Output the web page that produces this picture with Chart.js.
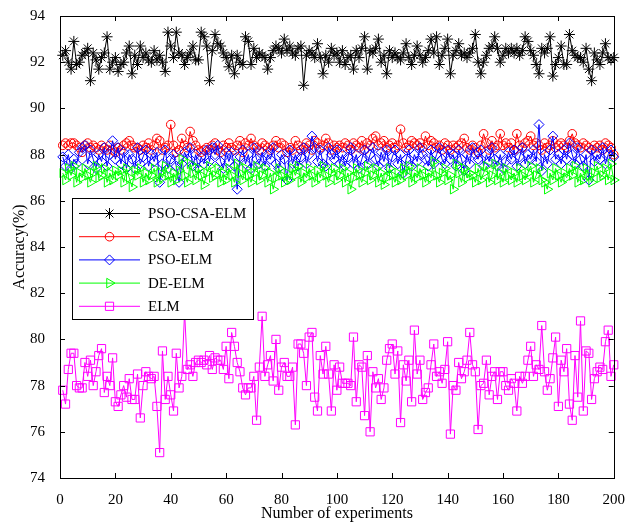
<!DOCTYPE html>
<html>
<head>
<meta charset="utf-8">
<title>Accuracy over 200 experiments</title>
<script src="https://cdn.jsdelivr.net/npm/chart.js"></script>
<style>
  html, body { margin: 0; padding: 0; background: #fff; }
  canvas { display: block; }
</style>
</head>
<body>
<canvas id="acc" width="630" height="523"></canvas>
<script>
// run index 1..200
const experiments = Array.from({ length: 200 }, (_, i) => i + 1);

const seriesNames = ["PSO-CSA-ELM", "CSA-ELM", "PSO-ELM", "DE-ELM", "ELM"];

const psoCsaElm = [
  92.3, 92.5, 92.0, 91.7, 92.9, 91.9, 92.0, 92.3, 92.4, 92.6,
  91.2, 92.4, 92.1, 91.7, 92.2, 92.4, 93.1, 91.7, 92.0, 92.2,
  91.6, 91.9, 92.0, 92.4, 92.7, 91.5, 92.3, 91.9, 92.7, 92.2,
  92.4, 92.1, 92.0, 92.5, 92.1, 92.3, 92.0, 91.6, 93.3, 92.7,
  92.2, 93.3, 92.4, 92.3, 91.9, 92.2, 92.4, 92.7, 92.1, 92.1,
  93.3, 93.1, 92.7, 91.2, 92.5, 93.2, 92.8, 92.7, 92.4, 92.2,
  91.8, 92.3, 91.5, 92.3, 92.0, 91.9, 93.1, 92.9, 91.9, 92.6,
  92.2, 92.4, 92.3, 92.2, 91.7, 92.2, 92.5, 92.7, 92.6, 92.4,
  93.0, 92.5, 92.7, 92.4, 92.3, 92.6, 92.7, 91.0, 92.3, 92.5,
  92.4, 92.2, 92.8, 92.2, 91.5, 92.3, 92.0, 92.6, 92.3, 92.4,
  92.0, 92.5, 91.9, 92.2, 92.3, 91.7, 92.5, 92.2, 92.6, 93.1,
  91.7, 92.5, 92.4, 92.6, 93.0, 92.0, 92.3, 91.5, 92.5, 92.2,
  92.4, 92.2, 92.1, 92.4, 92.8, 92.2, 91.9, 92.3, 92.7, 92.3,
  92.0, 92.2, 92.5, 93.0, 92.4, 93.1, 91.9, 92.3, 92.6, 93.0,
  91.5, 92.3, 92.5, 92.8, 92.3, 92.4, 92.2, 92.4, 92.6, 93.2,
  92.0, 91.5, 92.0, 92.3, 92.6, 92.7, 93.1, 92.6, 92.0, 92.3,
  92.6, 92.4, 92.6, 92.4, 92.6, 92.3, 92.5, 93.1, 92.9, 92.5,
  92.3, 91.9, 91.5, 92.6, 92.4, 92.6, 93.1, 91.4, 91.9, 92.2,
  92.7, 91.9, 91.9, 93.2, 92.5, 92.3, 92.2, 92.2, 92.0, 92.6,
  91.7, 91.2, 92.4, 92.1, 91.9, 92.4, 92.8, 92.2, 92.1, 92.2
];

const csaElm = [
  88.4, 88.5, 88.4, 88.5, 88.5, 88.4, 88.3, 88.1, 88.4, 88.5,
  88.3, 88.4, 88.3, 88.2, 88.4, 88.3, 88.2, 88.4, 88.2, 88.1,
  88.3, 88.2, 88.4, 88.5, 88.6, 88.4, 88.3, 88.3, 88.2, 88.4,
  88.3, 88.5, 88.2, 88.4, 88.7, 88.6, 88.2, 88.3, 88.4, 89.3,
  88.4, 88.1, 88.2, 88.7, 88.4, 88.3, 89.0, 88.6, 88.4, 88.2,
  88.1, 88.2, 88.3, 88.2, 88.4, 88.5, 88.2, 88.1, 88.4, 88.3,
  88.5, 88.3, 88.2, 88.4, 88.6, 88.1, 88.5, 88.4, 88.7, 88.4,
  88.3, 88.2, 88.5, 88.4, 88.3, 88.2, 88.4, 88.6, 88.3, 88.5,
  88.4, 88.1, 88.3, 88.2, 88.6, 88.4, 88.2, 88.3, 88.5, 88.4,
  88.2, 88.6, 88.5, 88.3, 88.4, 88.7, 88.5, 88.2, 88.4, 88.3,
  88.4, 88.3, 88.5, 88.4, 88.2, 88.5, 88.4, 88.3, 88.6, 88.2,
  88.5, 88.4, 88.7, 88.8, 88.4, 88.5, 88.6, 88.3, 88.4, 88.5,
  88.3, 88.4, 89.1, 88.5, 88.3, 88.4, 88.6, 88.5, 88.4, 88.5,
  88.3, 88.8, 88.4, 88.6, 88.5, 88.3, 88.4, 88.2, 88.5, 88.4,
  88.2, 88.4, 88.3, 88.4, 88.5, 88.7, 88.3, 88.2, 88.4, 88.3,
  88.1, 88.4, 88.9, 88.5, 88.2, 88.6, 88.3, 88.4, 88.9, 88.4,
  88.5, 88.3, 88.5, 88.2, 88.9, 88.4, 88.3, 88.5, 88.6, 88.8,
  88.4, 88.5, 88.4, 88.2, 88.5, 88.3, 88.4, 88.6, 88.3, 88.4,
  88.5, 88.4, 88.3, 88.6, 88.9, 88.5, 88.4, 88.3, 88.5, 88.4,
  88.3, 88.2, 88.4, 88.3, 88.4, 88.2, 88.5, 88.4, 88.3, 88.0
];

const psoElm = [
  87.9, 87.5, 88.0, 87.4, 87.8, 87.6, 88.1, 88.3, 88.4, 87.6,
  88.2, 87.8, 87.4, 88.0, 87.7, 88.3, 87.5, 88.0, 88.6, 87.8,
  88.3, 87.6, 88.1, 87.4, 88.0, 87.8, 87.4, 88.3, 87.6, 87.9,
  88.2, 87.5, 88.0, 87.7, 88.1, 86.8, 87.6, 88.2, 87.4, 87.8,
  88.0, 87.5, 86.8, 87.6, 88.1, 87.8, 88.3, 87.5, 88.0, 87.4,
  87.9, 87.6, 88.2, 87.7, 88.3, 88.0, 88.4, 87.7, 87.4, 88.1,
  87.7, 88.1, 87.5, 86.5, 87.9, 88.2, 87.6, 88.0, 87.4, 88.3,
  87.8, 87.6, 88.1, 87.5, 88.0, 87.8, 88.3, 87.6, 87.4, 88.0,
  87.8, 86.9, 88.2, 87.6, 88.0, 87.5, 87.9, 88.3, 87.6, 88.0,
  88.8, 88.3, 87.7, 88.2, 87.6, 87.5, 88.3, 88.0, 87.8, 88.2,
  87.6, 88.0, 87.5, 87.9, 88.3, 87.6, 88.0, 87.4, 87.8, 88.2,
  87.6, 88.0, 88.3, 87.8, 87.5, 88.1, 87.7, 88.2, 87.4, 87.9,
  88.2, 87.6, 88.0, 87.2, 87.8, 88.2, 87.5, 88.0, 87.7, 88.3,
  88.0, 87.8, 87.5, 88.2, 87.6, 88.0, 88.3, 87.8, 87.6, 88.2,
  87.8, 88.0, 87.5, 88.2, 87.8, 87.3, 88.0, 87.6, 88.3, 88.0,
  87.8, 88.2, 87.5, 88.0, 87.7, 88.3, 87.8, 87.5, 88.0, 87.4,
  87.7, 88.1, 87.8, 88.2, 87.5, 87.9, 88.3, 87.6, 88.0, 87.8,
  88.2, 87.7, 89.3, 87.3, 88.0, 87.6, 88.2, 88.8, 87.8, 88.0,
  87.6, 88.2, 87.8, 88.5, 88.0, 87.6, 88.3, 87.8, 87.5, 88.0,
  86.9, 88.2, 87.7, 88.0, 87.8, 88.3, 87.6, 88.0, 88.2, 87.9
];

const deElm = [
  87.2, 86.9, 87.4, 87.1, 87.5, 86.8, 87.2, 87.0, 87.4, 87.1,
  86.8, 87.2, 87.5, 87.0, 87.1, 87.4, 86.8, 87.2, 86.9, 87.3,
  87.1, 87.3, 86.8, 87.4, 87.0, 86.6, 87.3, 87.1, 87.4, 86.8,
  87.2, 86.9, 87.1, 87.4, 86.8, 87.2, 87.0, 87.5, 87.1, 86.8,
  87.2, 86.9, 87.3, 87.8, 87.1, 86.8, 87.6, 87.2, 86.9, 87.4,
  87.1, 86.7, 87.2, 87.5, 87.0, 87.1, 87.4, 86.8, 87.2, 86.9,
  87.4, 87.1, 86.8, 87.6, 87.2, 86.9, 87.4, 87.1, 86.8, 87.2,
  87.5, 86.9, 87.1, 87.4, 86.8, 87.2, 86.5, 87.0, 87.4, 87.1,
  86.8, 87.2, 86.9, 87.4, 87.1, 87.5, 86.8, 87.2, 87.0, 87.4,
  87.1, 86.8, 87.3, 87.0, 87.5, 87.1, 86.8, 87.2, 87.4, 86.9,
  87.1, 87.4, 86.8, 87.2, 86.5, 87.0, 87.4, 87.1, 86.8, 87.2,
  87.5, 86.9, 87.1, 87.4, 86.8, 87.2, 86.7, 87.0, 87.4, 87.1,
  86.8, 87.2, 86.9, 87.4, 87.1, 87.5, 86.8, 87.2, 87.0, 87.4,
  87.1, 86.8, 87.2, 87.0, 87.7, 87.1, 86.8, 87.2, 87.4, 86.9,
  87.1, 86.5, 87.6, 87.2, 86.8, 87.4, 87.0, 87.2, 87.1, 86.8,
  87.4, 86.9, 87.2, 87.5, 86.8, 87.1, 87.6, 86.9, 87.2, 86.8,
  87.4, 87.1, 86.9, 87.2, 86.8, 87.4, 87.1, 86.9, 87.2, 87.5,
  86.8, 87.1, 87.4, 86.9, 86.8, 86.5, 87.2, 86.9, 87.4, 87.1,
  86.8, 87.2, 87.0, 87.4, 87.1, 87.5, 86.8, 87.2, 86.9, 87.4,
  87.1, 86.8, 87.2, 87.5, 87.0, 87.1, 87.4, 86.9, 87.6, 86.9
];

const elm = [
  77.8, 77.2, 78.7, 79.4, 79.4, 78.0, 77.9, 77.9, 79.0, 78.4,
  79.1, 78.0, 78.6, 79.3, 79.6, 77.7, 78.4, 78.0, 79.2, 77.3,
  77.1, 77.6, 78.0, 77.5, 78.3, 77.4, 77.4, 78.5, 76.6, 78.0,
  78.6, 78.4, 78.3, 78.4, 77.1, 75.1, 79.5, 77.4, 78.4, 77.6,
  76.9, 79.4, 77.9, 78.4, 81.2, 78.7, 78.9, 78.4, 79.0, 79.1,
  79.0, 79.1, 78.9, 79.3, 78.7, 79.2, 79.1, 79.1, 78.7, 79.7,
  78.3, 80.3, 79.7, 79.0, 78.6, 77.9, 77.6, 77.9, 77.9, 78.4,
  76.5, 78.8, 81.0, 78.4, 78.9, 79.3, 78.2, 80.0, 77.8, 78.8,
  79.0, 78.4, 78.4, 78.8, 76.3, 79.8, 79.8, 79.4, 78.0, 80.1,
  80.3, 77.5, 76.9, 79.3, 78.5, 79.7, 78.5, 76.9, 78.9, 77.8,
  78.8, 78.1, 78.1, 78.1, 78.0, 80.1, 77.3, 78.9, 78.8, 76.7,
  79.3, 76.0, 78.6, 77.9, 78.3, 77.4, 77.9, 79.1, 79.6, 79.8,
  78.5, 79.5, 76.4, 78.9, 78.2, 79.1, 77.3, 80.4, 78.5, 79.1,
  77.4, 77.7, 77.9, 78.9, 79.8, 78.4, 78.6, 78.1, 78.7, 79.9,
  75.9, 78.0, 77.8, 79.0, 78.3, 78.6, 79.1, 80.3, 78.9, 78.6,
  76.1, 78.0, 78.1, 79.1, 77.6, 78.4, 78.6, 77.4, 78.6, 78.6,
  78.0, 77.8, 78.3, 78.1, 76.9, 78.4, 78.1, 78.4, 79.1, 79.7,
  78.4, 78.9, 78.7, 80.6, 78.6, 77.8, 78.3, 79.2, 80.1, 77.1,
  79.1, 78.6, 79.6, 77.2, 76.5, 79.3, 77.5, 80.8, 76.9, 79.5,
  79.4, 77.4, 78.3, 78.6, 78.8, 78.7, 79.9, 80.4, 78.4, 78.9
];

const xTicks = [0, 20, 40, 60, 80, 100, 120, 140, 160, 180, 200];
const yTicks = [74, 76, 78, 80, 82, 84, 86, 88, 90, 92, 94];

const serif = "'Liberation Serif', 'Times New Roman', serif";

// marker look per series, same order as seriesNames
const styles = [
  { color: "#000000", pointStyle: "star", radius: 5.5, rotation: 0 },
  { color: "#ff0000", pointStyle: "circle", radius: 4.3, rotation: 0 },
  { color: "#0000ff", pointStyle: "rectRot", radius: 5, rotation: 0 },
  { color: "#00ff00", pointStyle: "triangle", radius: 5.5, rotation: 90 },
  { color: "#ff00ff", pointStyle: "rect", radius: 5.8, rotation: 0 }
];

const allValues = [psoCsaElm, csaElm, psoElm, deElm, elm];

const datasets = allValues.map((values, i) => {
  const s = styles[i];
  return {
    label: seriesNames[i],
    data: values.map((v, j) => ({ x: experiments[j], y: v })),
    borderColor: s.color,
    borderWidth: 1,
    pointStyle: s.pointStyle,
    pointRadius: s.radius,
    pointRotation: s.rotation,
    pointBorderColor: s.color,
    pointBorderWidth: 1,
    pointBackgroundColor: "rgba(0,0,0,0)",
    tension: 0,
    clip: false,
    order: allValues.length - i
  };
});

// box around the plot with inward ticks on all four sides
const frameTicks = {
  id: "frameTicks",
  afterDatasetsDraw(chart) {
    const { ctx, chartArea: a } = chart;
    const x = chart.scales.x;
    const y = chart.scales.y;
    const len = 5;
    ctx.save();
    ctx.strokeStyle = "#000";
    ctx.lineWidth = 1;
    ctx.beginPath();
    xTicks.forEach((t) => {
      const px = Math.round(x.getPixelForValue(t)) + 0.5;
      ctx.moveTo(px, a.bottom);
      ctx.lineTo(px, a.bottom - len);
      ctx.moveTo(px, a.top);
      ctx.lineTo(px, a.top + len);
    });
    yTicks.forEach((t) => {
      const py = Math.round(y.getPixelForValue(t)) + 0.5;
      ctx.moveTo(a.left, py);
      ctx.lineTo(a.left + len, py);
      ctx.moveTo(a.right, py);
      ctx.lineTo(a.right - len, py);
    });
    ctx.stroke();
    ctx.strokeRect(Math.round(a.left) + 0.5, Math.round(a.top) + 0.5,
      Math.round(a.right - a.left), Math.round(a.bottom - a.top));
    ctx.restore();
  }
};

// legend box inside the plot, between the upper group and the ELM band
const boxLegend = {
  id: "boxLegend",
  afterDraw(chart) {
    const { ctx } = chart;
    const bx = 72, by = 198, bw = 181, bh = 121;
    const rowH = 23.2;
    ctx.save();
    ctx.fillStyle = "#fff";
    ctx.fillRect(bx, by, bw, bh);
    ctx.strokeStyle = "#000";
    ctx.lineWidth = 1;
    ctx.strokeRect(bx + 0.5, by + 0.5, bw, bh);
    seriesNames.forEach((name, i) => {
      const s = styles[i];
      const cy = by + 15 + i * rowH;
      ctx.strokeStyle = s.color;
      ctx.lineWidth = 1;
      ctx.beginPath();
      ctx.moveTo(79, cy + 0.5);
      ctx.lineTo(140, cy + 0.5);
      ctx.stroke();
      ctx.fillStyle = "rgba(0,0,0,0)";
      if (Chart.helpers && Chart.helpers.drawPoint) {
        Chart.helpers.drawPoint(ctx, {
          pointStyle: s.pointStyle,
          rotation: s.rotation,
          radius: s.radius,
          borderWidth: 1
        }, 109.5, cy + 0.5);
      }
      ctx.fillStyle = "#000";
      ctx.font = "15px " + serif;
      ctx.textAlign = "left";
      ctx.textBaseline = "middle";
      ctx.fillText(name, 148, cy + 1);
    });
    ctx.restore();
  }
};

new Chart(document.getElementById("acc"), {
  type: "line",
  data: { datasets },
  options: {
    responsive: false,
    devicePixelRatio: 1,
    animation: false,
    layout: { padding: { top: 14, right: 16, left: 0, bottom: 0 } },
    plugins: {
      legend: { display: false },
      tooltip: { enabled: false }
    },
    scales: {
      x: {
        type: "linear",
        min: 0,
        max: 200,
        grid: { display: false },
        border: { display: false },
        afterBuildTicks: (scale) => {
          scale.ticks = xTicks.map((v) => ({ value: v }));
        },
        afterFit: (scale) => { scale.height = 45; },
        ticks: {
          color: "#000",
          padding: 5,
          maxRotation: 0,
          font: { family: serif, size: 15 }
        },
        title: {
          display: true,
          text: "Number of experiments",
          color: "#000",
          padding: { top: 0, bottom: 0 },
          font: { family: serif, size: 16 }
        }
      },
      y: {
        min: 74,
        max: 94,
        grid: { display: false },
        border: { display: false },
        afterBuildTicks: (scale) => {
          scale.ticks = yTicks.map((v) => ({ value: v }));
        },
        afterFit: (scale) => { scale.width = 60; },
        ticks: {
          color: "#000",
          padding: 7,
          font: { family: serif, size: 15 }
        },
        title: {
          display: true,
          text: "Accuracy(%)",
          color: "#000",
          padding: { top: 10, bottom: 0 },
          font: { family: serif, size: 16 }
        }
      }
    }
  },
  plugins: [frameTicks, boxLegend]
});
</script>
</body>
</html>
